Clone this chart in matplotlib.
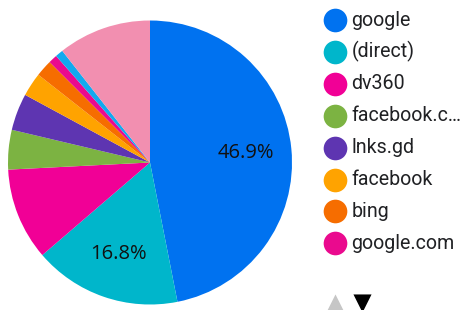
import matplotlib
matplotlib.use("Agg")
import matplotlib.pyplot as plt

# traffic source share, clockwise from 12 o'clock
sources = ["google", "(direct)", "dv360", "facebook.c...", "lnks.gd", "facebook",
           "bing", "google.com", "other source", "Others"]
legend_labels = ["google", "(direct)", "dv360", "facebook.c\u2026", "lnks.gd",
                 "facebook", "bing", "google.com"]
shares = [46.9, 16.8, 10.5, 4.5, 4.2, 2.7, 1.9, 1.0, 0.9, 10.6]
colors = ["#0072f0", "#00b6cb", "#f10096", "#7cb342", "#5e35b1", "#ffa300",
          "#f66d00", "#ea0a8e", "#12a9ef", "#f28fb0"]

W, H = 461, 310
fig = plt.figure(figsize=(W / 100, H / 100), dpi=100)
ax = fig.add_axes([0, 0, 1, 1])


def pct_label(p):
    return f"{p:.1f}%" if p > 15 else ""


# y axis is flipped below, so start at -90 and go counterclockwise in data
# coords -> clockwise from 12 o'clock on screen
wedges, texts, autotexts = ax.pie(
    shares, colors=colors, startangle=-90, counterclock=True,
    center=(150, 162.5), radius=142, autopct=pct_label, pctdistance=0.68,
    wedgeprops=dict(linewidth=0), frame=True,
    textprops=dict(fontsize=14.5, family="Open Sans", color="#111111"))
ax.set_xlim(0, W)
ax.set_ylim(H, 0)
ax.set_aspect("equal")
ax.axis("off")

# legend
y0, dy = 20, 31.9
for i, lab in enumerate(legend_labels):
    y = y0 + i * dy
    ax.scatter([334.5], [y], s=290, color=colors[i], linewidths=0, zorder=3)
    ax.text(351.5, y, lab, fontsize=14.1, family="Roboto", color="#202124",
            va="center", ha="left")

# pager arrows
ax.scatter([335], [303], marker="^", s=170, color="#c6c6c6", linewidths=0)
ax.scatter([362], [303], marker="v", s=170, color="#000000", linewidths=0)

fig.savefig("out.png", dpi=100)
